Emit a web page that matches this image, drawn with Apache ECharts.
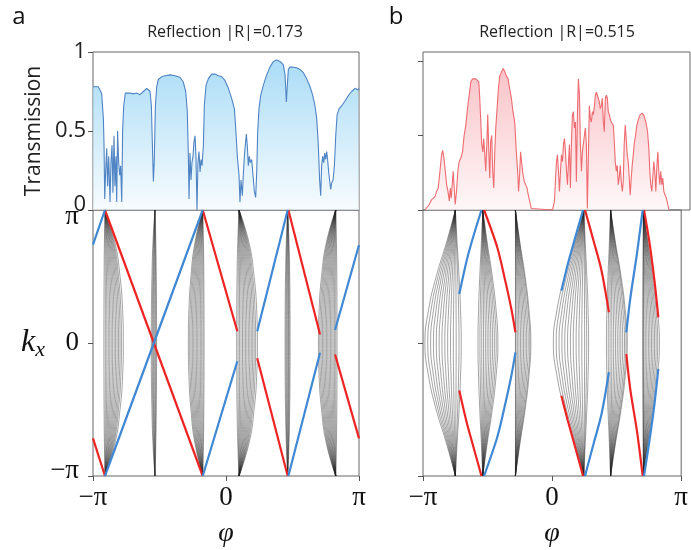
<!DOCTYPE html>
<html><head><meta charset="utf-8">
<script src="https://cdn.jsdelivr.net/npm/echarts@6/dist/echarts.min.js"></script>
<style>html,body{margin:0;padding:0;background:#fff}#c{width:691px;height:550px}</style>
</head><body><div id="c"></div>
<script>
// ---------- DATA (phi and k in units of π) ----------
// Panel a: transmission
const transA_phi = [-1.0,-0.960,-0.935,-0.922,-0.917,-0.912,-0.905,-0.897,-0.890,-0.882,-0.872,-0.865,-0.857,-0.850,-0.842,-0.835,-0.827,-0.822,-0.815,-0.807,-0.799,-0.792,-0.784,-0.777,-0.769,-0.757,-0.742,-0.722,-0.697,-0.672,-0.647,-0.622,-0.596,-0.581,-0.571,-0.561,-0.554,-0.546,-0.539,-0.531,-0.521,-0.509,-0.484,-0.459,-0.421,-0.383,-0.346,-0.321,-0.303,-0.291,-0.283,-0.278,-0.271,-0.263,-0.256,-0.248,-0.241,-0.233,-0.226,-0.218,-0.211,-0.203,-0.195,-0.188,-0.180,-0.170,-0.163,-0.150,-0.133,-0.108,-0.083,-0.058,-0.033,-0.008,0.018,0.043,0.063,0.075,0.085,0.098,0.105,0.113,0.123,0.130,0.138,0.145,0.153,0.160,0.168,0.175,0.183,0.193,0.203,0.213,0.223,0.231,0.238,0.248,0.261,0.281,0.306,0.331,0.356,0.381,0.406,0.431,0.444,0.454,0.461,0.469,0.481,0.506,0.531,0.556,0.581,0.607,0.632,0.652,0.669,0.682,0.694,0.704,0.712,0.719,0.727,0.734,0.742,0.749,0.757,0.764,0.772,0.779,0.787,0.794,0.805,0.815,0.825,0.835,0.850,0.870,0.895,0.920,0.945,0.970,0.995,1.0];
const transA_T = [0.78,0.78,0.737,0.58,0.41,0.07,0.24,0.39,0.15,0.34,0.05,0.30,0.41,0.11,0.47,0.15,0.34,0.05,0.50,0.30,0.22,0.28,0.05,0.51,0.66,0.74,0.75,0.74,0.735,0.74,0.73,0.75,0.77,0.78,0.75,0.66,0.43,0.18,0.32,0.66,0.78,0.826,0.843,0.85,0.855,0.85,0.84,0.81,0.75,0.62,0.34,0.07,0.36,0.19,0.30,0.34,0.43,0.47,0.34,0.0,0.30,0.37,0.24,0.32,0.28,0.41,0.66,0.79,0.83,0.86,0.86,0.85,0.845,0.82,0.77,0.705,0.64,0.49,0.34,0.22,0.05,0.19,0.09,0.22,0.34,0.41,0.48,0.41,0.28,0.34,0.30,0.32,0.22,0.12,0.08,0.24,0.49,0.64,0.725,0.79,0.855,0.906,0.94,0.95,0.94,0.92,0.855,0.683,0.79,0.89,0.904,0.904,0.90,0.89,0.87,0.83,0.78,0.725,0.66,0.58,0.41,0.19,0.09,0.28,0.34,0.30,0.36,0.32,0.37,0.32,0.24,0.19,0.13,0.17,0.19,0.28,0.47,0.60,0.64,0.66,0.69,0.725,0.75,0.77,0.76,0.77];

// Panel b: transmission
const transB_phi = [-0.985,-0.973,-0.953,-0.935,-0.923,-0.910,-0.898,-0.886,-0.873,-0.861,-0.853,-0.843,-0.833,-0.823,-0.813,-0.803,-0.796,-0.789,-0.781,-0.774,-0.766,-0.759,-0.749,-0.739,-0.729,-0.716,-0.704,-0.692,-0.679,-0.667,-0.654,-0.642,-0.629,-0.617,-0.604,-0.592,-0.582,-0.575,-0.567,-0.560,-0.552,-0.545,-0.537,-0.530,-0.522,-0.515,-0.507,-0.500,-0.493,-0.485,-0.478,-0.470,-0.463,-0.455,-0.445,-0.435,-0.425,-0.413,-0.400,-0.388,-0.376,-0.363,-0.351,-0.338,-0.326,-0.313,-0.301,-0.291,-0.284,-0.276,-0.269,-0.259,-0.251,-0.241,-0.231,-0.221,-0.211,-0.201,-0.189,-0.177,-0.030,
 -0.015,-0.007,0.000,0.007,0.015,0.022,0.030,0.037,0.045,0.052,0.060,0.067,0.075,0.082,0.090,0.097,0.104,0.112,0.119,0.127,0.134,0.142,0.149,0.157,0.164,0.172,0.179,0.187,0.194,0.201,0.209,0.216,0.224,0.231,0.239,0.246,0.254,0.261,0.269,0.276,0.284,0.291,0.299,0.306,0.313,0.321,0.328,0.336,0.343,0.351,0.358,0.366,0.373,0.381,0.388,0.396,0.403,0.410,0.418,0.425,0.433,0.440,0.448,0.455,0.463,0.470,0.478,0.485,0.493,0.500,0.507,0.515,0.522,0.530,0.537,0.545,0.552,0.560,0.567,0.575,0.582,0.592,0.602,0.614,0.627,0.642,0.657,0.672,0.682,0.692,0.699,0.706,0.714,0.721,0.729,0.736,0.744,0.751,0.759,0.766,0.774,0.781,0.789,0.796,0.804,0.813,0.823,0.833,0.843];
const transB_T = [0.0,0.01,0.037,0.07,0.08,0.09,0.125,0.148,0.26,0.37,0.40,0.35,0.26,0.17,0.125,0.06,0.148,0.08,0.17,0.26,0.148,0.037,0.125,0.26,0.325,0.35,0.39,0.50,0.57,0.68,0.77,0.86,0.88,0.87,0.88,0.89,0.86,0.75,0.59,0.44,0.39,0.48,0.37,0.26,0.44,0.64,0.39,0.215,0.46,0.50,0.26,0.148,0.37,0.55,0.68,0.815,0.90,0.925,0.95,0.93,0.90,0.88,0.815,0.75,0.66,0.59,0.39,0.26,0.125,0.24,0.39,0.30,0.24,0.19,0.17,0.148,0.10,0.06,0.01,0.0,0.0,
 0.06,0.215,0.325,0.37,0.26,0.125,0.26,0.37,0.325,0.44,0.48,0.39,0.26,0.17,0.325,0.44,0.148,0.46,0.64,0.66,0.55,0.59,0.19,0.66,0.88,0.77,0.44,0.26,0.39,0.44,0.50,0.55,0.44,0.01,0.37,0.70,0.61,0.59,0.66,0.64,0.70,0.77,0.79,0.77,0.78,0.725,0.68,0.70,0.75,0.59,0.525,0.75,0.77,0.75,0.66,0.64,0.61,0.59,0.60,0.57,0.46,0.325,0.26,0.30,0.17,0.215,0.30,0.19,0.125,0.19,0.44,0.57,0.48,0.37,0.325,0.215,0.10,0.215,0.30,0.37,0.44,0.50,0.57,0.61,0.64,0.65,0.63,0.58,0.525,0.41,0.26,0.17,0.125,0.215,0.325,0.26,0.125,0.28,0.39,0.26,0.17,0.26,0.17,0.215,0.125,0.10,0.08,0.04,0.0];

// Band structure: k samples and measured bulge profile of a band (fraction of k=0 bulge)
const profileK = [-1,-0.75,-0.5,-0.25,0,0.25,0.5,0.75,1];
const bandA_shape = [0,0.55,0.82,0.96,1,0.96,0.82,0.55,0];
const bandB_shape = [0,0.30,0.63,0.88,1,0.88,0.63,0.30,0];

// Pinch positions (phi at k=±π) and the k=0 offsets of each bulk band curve
const bandA_pinch = [-0.910,-0.534,-0.175,0.098,0.464,0.825];
const bandA_offsets = [
 [-0.008,0.003,0.014,0.025,0.036,0.047,0.058,0.069,0.080,0.091,0.102,0.113,0.124,0.138],
 [-0.028,-0.020,-0.013,-0.007,0,0.006,0.012],
 [-0.108,-0.098,-0.088,-0.078,-0.068,-0.058,-0.048,-0.038,-0.028,-0.018,-0.008,0.002,0.010],
 [-0.018,-0.007,0.004,0.015,0.026,0.037,0.048,0.059,0.070,0.081,0.092,0.103,0.114,0.125,0.138],
 [-0.020,-0.013,-0.007,0,0.006,0.012,0.018],
 [-0.130,-0.120,-0.110,-0.100,-0.090,-0.080,-0.070,-0.060,-0.050,-0.040,-0.030,-0.020,-0.010,0,0.010]
];
const bandB_pinch = [-0.749,-0.537,-0.284,0.246,0.453,0.707];
const bandB_offsets = [
 [-0.236,-0.214,-0.192,-0.170,-0.148,-0.126,-0.104,-0.082,-0.060,-0.038,-0.016,0.006,0.028,0.045],
 [-0.037,-0.022,-0.008,0.006,0.020,0.034,0.048,0.062,0.076,0.090,0.104,0.117],
 [0,0.004,0.015,0.027,0.039,0.051,0.063,0.075,0.087,0.099,0.111,0.119],
 [-0.236,-0.214,-0.192,-0.170,-0.148,-0.126,-0.104,-0.082,-0.060,-0.038,-0.016,0.006,0.022,0.037],
 [-0.032,-0.018,-0.004,0.010,0.024,0.038,0.052,0.066,0.080,0.094,0.108,0.120,0.129],
 [-0.006,0,0.004,0.015,0.027,0.039,0.051,0.063,0.075,0.087,0.099,0.111,0.124]
];

// Edge states [phi, k] polylines
const edgeA_red = [
 [[-1,-0.717],[-0.910,-1]],
 [[-0.910,1],[-0.175,-1]],
 [[-0.175,1],[0.085,0.088]],
 [[0.235,-0.115],[0.464,-1]],
 [[0.469,1],[0.707,0.064]],
 [[0.820,-0.086],[1,-0.717]]
];
const edgeA_blue = [
 [[-1,0.739],[-0.910,1]],
 [[-0.910,-1],[-0.175,1]],
 [[-0.175,-1],[0.085,-0.137]],
 [[0.235,0.088],[0.464,1]],
 [[0.469,-1],[0.707,-0.074]],
 [[0.820,0.098],[1,0.737]]
];
const edgeB_blue = [
 [[-0.547,1],[-0.612,0.795],[-0.662,0.619],[-0.719,0.368]],
 [[-0.527,-1],[-0.425,-0.709],[-0.363,-0.459],[-0.313,-0.233],[-0.284,-0.070]],
 [[0.240,1],[0.172,0.769],[0.122,0.594],[0.072,0.393]],
 [[0.255,-1],[0.321,-0.759],[0.383,-0.534],[0.440,-0.220]],
 [[0.702,1],[0.657,0.669],[0.607,0.344],[0.575,0.080]],
 [[0.712,-1],[0.756,-0.722],[0.793,-0.459],[0.823,-0.195]]
];
const edgeB_red = [
 [[-0.547,-1],[-0.612,-0.772],[-0.662,-0.596],[-0.719,-0.358]],
 [[-0.527,1],[-0.425,0.720],[-0.363,0.469],[-0.313,0.243],[-0.284,0.080]],
 [[0.240,-1],[0.172,-0.759],[0.122,-0.584],[0.072,-0.396]],
 [[0.255,1],[0.321,0.769],[0.383,0.544],[0.440,0.231]],
 [[0.702,-1],[0.657,-0.659],[0.607,-0.358],[0.575,-0.083]],
 [[0.712,1],[0.756,0.744],[0.793,0.469],[0.823,0.193]]
];

const titleA = 'Reflection |R|=0.173';
const titleB = 'Reflection |R|=0.515';

// ---------- CHART ----------
const chart = echarts.init(document.getElementById('c'), null, {renderer:'canvas'});
const pairs = (xs, ys) => xs.map((x,i)=>[x, ys[i]]);
const series = [];
const BLUE_LINE = '#4f84c4', RED_LINE = '#ef6b70';
const EDGE_RED = '#ee2424', EDGE_BLUE = '#3f88d4';

series.push({type:'line', xAxisIndex:0, yAxisIndex:0, data:pairs(transA_phi, transA_T), symbol:'none',
  lineStyle:{color:BLUE_LINE, width:1.1},
  areaStyle:{color:new echarts.graphic.LinearGradient(0,0,0,1,[{offset:0,color:'#86cdf3'},{offset:1,color:'#f4fafe'}])}, z:2});
series.push({type:'line', xAxisIndex:2, yAxisIndex:2, data:pairs(transB_phi, transB_T), symbol:'none',
  lineStyle:{color:RED_LINE, width:1.1},
  areaStyle:{color:new echarts.graphic.LinearGradient(0,0,0,1,[{offset:0,color:'#f7a9b0'},{offset:1,color:'#fdf4f5'}])}, z:2});

function addBands(pinch, offsets, shape, xi){
  pinch.forEach((p, li) => {
    offsets[li].forEach(off => {
      series.push({type:'line', xAxisIndex:xi, yAxisIndex:xi, symbol:'none', smooth:0.5, silent:true, z:1,
        data: profileK.map((k,j)=>[p + off*shape[j], k]),
        lineStyle:{color:'rgba(35,35,35,0.55)', width:0.75}});
    });
  });
}
addBands(bandA_pinch, bandA_offsets, bandA_shape, 1);
addBands(bandB_pinch, bandB_offsets, bandB_shape, 3);

function addEdges(list, color, xi, smooth){
  list.forEach(seg => series.push({type:'line', xAxisIndex:xi, yAxisIndex:xi, symbol:'none', smooth:smooth, z:3,
    data:seg, lineStyle:{color:color, width:2.2}}));
}
addEdges(edgeA_red, EDGE_RED, 1, false);
addEdges(edgeA_blue, EDGE_BLUE, 1, false);
addEdges(edgeB_red, EDGE_RED, 3, 0.3);
addEdges(edgeB_blue, EDGE_BLUE, 3, 0.3);

const piFmtX = v => v === 1 ? 'π' : (v === 0 ? '0' : (v === -1 ? '−π' : ''));
const piFmtY = v => v === 1 ? '{hi|π}' : (v === 0 ? '{m|0}' : (v === -1 ? '{lo|−π}' : ''));
const tick = {show:true, inside:false, length:5, lineStyle:{color:'#555', width:1}};
const SERIF = '"Liberation Serif", serif';
const serifLab = {fontFamily:SERIF, fontSize:27, color:'#111'};
const gridBase = {show:true, borderColor:'#666', borderWidth:1, backgroundColor:'transparent'};
const noLine = {show:false, onZero:false};

const xPhi = (gi) => ({gridIndex:gi, type:'value', min:-1, max:1, interval:1, splitLine:{show:false},
  axisLine:noLine, axisTick:tick,
  axisLabel:Object.assign({formatter:piFmtX, margin:8}, serifLab),
  name:'φ', nameLocation:'middle', nameGap:44,
  nameTextStyle:{fontFamily:SERIF, fontStyle:'italic', fontSize:28, color:'#111'}});
const xTop = (gi) => ({gridIndex:gi, type:'value', min:-1, max:1, interval:1, splitLine:{show:false},
  axisLine:noLine, axisTick:{show:false}, axisLabel:{show:false}});

chart.setOption({
  animation:false,
  backgroundColor:'#fff',
  grid:[
    Object.assign({left:93, top:52, width:266, height:158}, gridBase),
    Object.assign({left:93, top:210, width:266, height:266}, gridBase),
    Object.assign({left:423, top:52, width:267, height:158}, gridBase),
    Object.assign({left:423, top:210, width:267, height:266}, gridBase)
  ],
  xAxis:[xTop(0), xPhi(1), xTop(2), xPhi(3)],
  yAxis:[
    {gridIndex:0, type:'value', min:0, max:1, interval:0.5, splitLine:{show:false}, axisLine:noLine,
     axisTick:tick,
     axisLabel:{formatter:v => v === 0 ? '{z|0}' : '{n|' + v + '}', margin:7,
       rich:{n:{fontFamily:'"Open Sans", sans-serif', fontSize:22, color:'#222'},
             z:{fontFamily:'"Open Sans", sans-serif', fontSize:22, color:'#222', padding:[0,0,10,0]}}},
     name:'Transmission', nameLocation:'middle', nameGap:48,
     nameTextStyle:{fontFamily:'"Open Sans", sans-serif', fontSize:21, color:'#222'}},
    {gridIndex:1, type:'value', min:-1, max:1, interval:1, splitLine:{show:false}, axisLine:noLine,
     axisTick:tick,
     axisLabel:{formatter:piFmtY, margin:14,
       rich:{hi:Object.assign({padding:[14,0,0,0]}, serifLab), m:Object.assign({}, serifLab),
             lo:Object.assign({padding:[0,0,10,0]}, serifLab)}},
     name:'{k|k}{s|x}', nameLocation:'middle', nameRotate:0, nameGap:48,
     nameTextStyle:{rich:{k:{fontFamily:SERIF, fontStyle:'italic', fontSize:32, color:'#111'},
                          s:{fontFamily:SERIF, fontStyle:'italic', fontSize:22, color:'#111', padding:[14,0,0,0]}}}},
    {gridIndex:2, type:'value', min:0, max:1.06, interval:0.5, splitLine:{show:false}, axisLine:noLine,
     axisTick:Object.assign({customValues:[0,0.5,1]}, tick), axisLabel:{show:false}},
    {gridIndex:3, type:'value', min:-1, max:1, interval:1, splitLine:{show:false}, axisLine:noLine,
     axisTick:tick, axisLabel:{show:false}}
  ],
  graphic:[
    {type:'text', x:19, y:17, style:{text:'a', font:'24px "Open Sans", sans-serif', fill:'#111', align:'center', verticalAlign:'middle'}},
    {type:'text', x:396, y:17, style:{text:'b', font:'24px "Open Sans", sans-serif', fill:'#111', align:'center', verticalAlign:'middle'}},
    {type:'text', x:225, y:32, style:{text:titleA, font:'16px "Open Sans", sans-serif', fill:'#222', align:'center', verticalAlign:'middle'}},
    {type:'text', x:557, y:32, style:{text:titleB, font:'16px "Open Sans", sans-serif', fill:'#222', align:'center', verticalAlign:'middle'}}
  ],
  series:series
});
</script></body></html>
